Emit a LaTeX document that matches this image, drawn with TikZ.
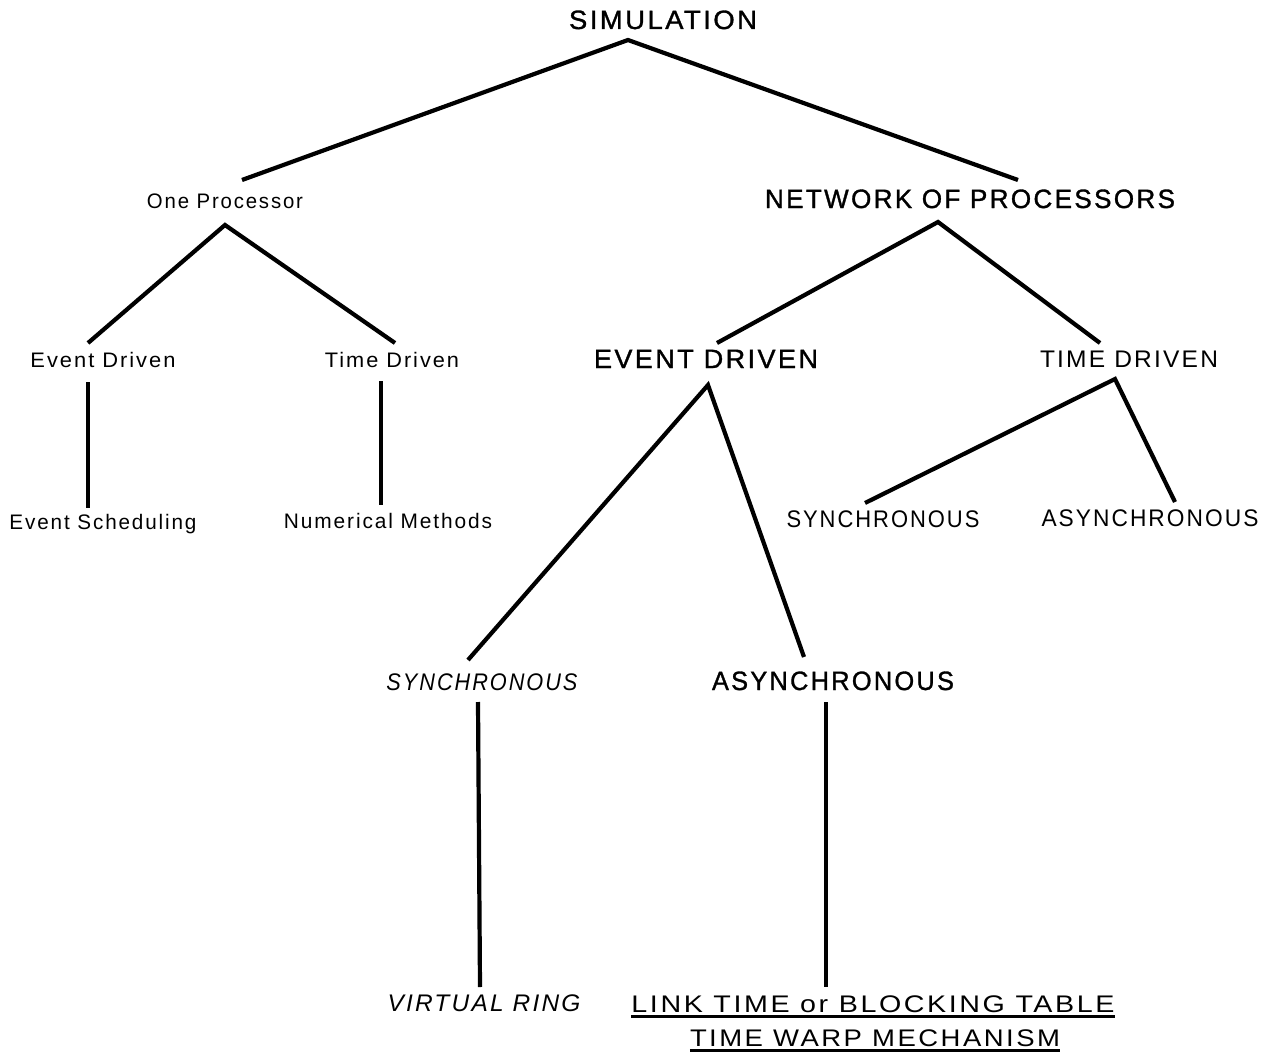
\documentclass[tikz,border=0pt]{standalone}
\usepackage{fontspec}
\usepackage{graphicx}
\setmainfont{Liberation Sans}
\newfontfamily\spaced[LetterSpace=9]{Liberation Sans}
\newfontfamily\heavy[LetterSpace=9,FakeBold=1.2]{Liberation Sans}
% squeeze or stretch a label horizontally to a given width (in pt)
\newcommand{\fitw}[2]{\resizebox{#1pt}{\height}{#2}}
\begin{document}
\begin{tikzpicture}[x=1pt,y=-1pt,
  lbl/.style={inner sep=0pt, anchor=base},
  small/.style={lbl, font=\spaced\fontsize{21}{24}\selectfont},
  mid/.style={lbl, font=\spaced\fontsize{24}{27}\selectfont},
  big/.style={lbl, font=\heavy\fontsize{26.5}{30}\selectfont},
  slant/.style={lbl, font=\spaced\itshape\fontsize{24}{27}\selectfont},
  branch/.style={line width=4.2pt, line join=miter, line cap=butt},
  uline/.style={line width=2.2pt}]
\useasboundingbox (0,0) rectangle (1270,1054);

% labels
\node[big]   (sim)  at (663,29)   {\fitw{188}{SIMULATION}};
\node[small] (one)  at (225,208)  {\fitw{156}{One Processor}};
\node[big]   (net)  at (970,208)  {\fitw{410}{NETWORK OF PROCESSORS}};
\node[small] (evl)  at (103,367)  {\fitw{145}{Event Driven}};
\node[small] (tdl)  at (392,367)  {\fitw{134}{Time Driven}};
\node[big]   (evr)  at (706,368)  {\fitw{224}{EVENT DRIVEN}};
\node[mid]   (tdr)  at (1129,367) {\fitw{178}{TIME DRIVEN}};
\node[small] (esch) at (103,529)  {\fitw{187}{Event Scheduling}};
\node[small] (num)  at (388,528)  {\fitw{208}{Numerical Methods}};
\node[mid]   (syr)  at (883,527)  {\fitw{193}{SYNCHRONOUS}};
\node[mid]   (asr)  at (1150,526) {\fitw{217}{ASYNCHRONOUS}};
\node[slant] (syi)  at (482,690)  {\fitw{191}{SYNCHRONOUS}};
\node[big]   (asb)  at (833,690)  {\fitw{242}{ASYNCHRONOUS}};
\node[slant] (vr)   at (484,1011) {\fitw{193}{VIRTUAL RING}};
\node[mid]   (link) at (873,1012) {\fitw{483}{LINK TIME or BLOCKING TABLE}};
\node[mid]   (tw)   at (875,1046) {\fitw{370}{TIME WARP MECHANISM}};

% branch points and line ends
\coordinate (simJ) at (628,40);
\coordinate (oneT) at (242,180);
\coordinate (netT) at (1018,180);
\coordinate (oneJ) at (225,225);
\coordinate (evlT) at (88,343);
\coordinate (tdlT) at (395,343);
\coordinate (evlB) at (88,382);
\coordinate (eschT) at (88,508);
\coordinate (tdlB) at (381,381);
\coordinate (numT) at (381,505);
\coordinate (netJ) at (938,222);
\coordinate (evrT) at (717,343);
\coordinate (tdrT) at (1100,343);
\coordinate (evrJ) at (708,385);
\coordinate (syiT) at (468,660);
\coordinate (asbT) at (804,657);
\coordinate (tdrJ) at (1115,379);
\coordinate (syrT) at (865,503);
\coordinate (asrT) at (1175,502);
\coordinate (syiB) at (478,702);
\coordinate (vrT)  at (480,987);
\coordinate (asbB) at (826,702);
\coordinate (linkT) at (826,987);

% tree branches
\draw[branch] (oneT) -- (simJ) -- (netT);
\draw[branch] (evlT) -- (oneJ) -- (tdlT);
\draw[branch] (evlB) -- (eschT);
\draw[branch] (tdlB) -- (numT);
\draw[branch] (evrT) -- (netJ) -- (tdrT);
\draw[branch] (syiT) -- (evrJ) -- (asbT);
\draw[branch] (syrT) -- (tdrJ) -- (asrT);
\draw[branch] (syiB) -- (vrT);
\draw[branch] (asbB) -- (linkT);

% underlines of the bottom labels
\draw[uline] ([yshift=-4.5pt]link.base west) -- ([yshift=-4.5pt]link.base east);
\draw[uline] ([yshift=-4.5pt]tw.base west) -- ([yshift=-4.5pt]tw.base east);
\end{tikzpicture}
\end{document}
